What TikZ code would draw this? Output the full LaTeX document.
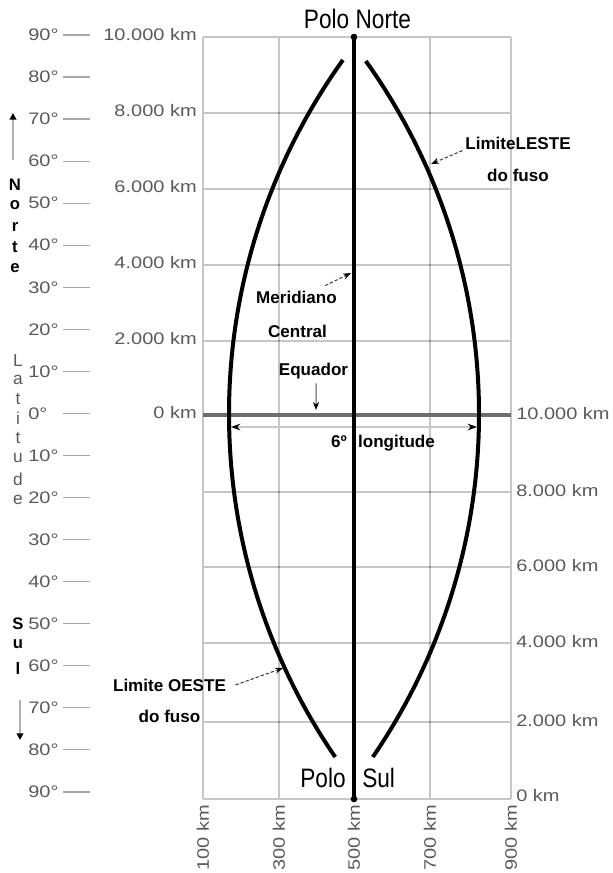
\documentclass[tikz,border=0pt]{standalone}
\usepackage{fontspec}
\setmainfont{Liberation Sans}
\newfontfamily\grayfont[FakeStretch=1.2]{Liberation Sans}
\newfontfamily\polofont[FakeStretch=0.85]{Liberation Sans}
\usetikzlibrary{arrows.meta}
\definecolor{gridgray}{HTML}{C6C6C6}
\definecolor{lblgray}{HTML}{5A5A5A}
\definecolor{eqgray}{HTML}{6E6E6E}
\definecolor{dimgray}{HTML}{C8C8C8}
\begin{document}
\begin{tikzpicture}[x=0.75pt,y=-0.75pt,
  lbl/.style={font=\grayfont\fontsize{12.5}{14}\selectfont, text=lblgray, inner sep=0pt},
  bl/.style={font=\bfseries\fontsize{12.8}{14}\selectfont, inner sep=0pt, anchor=base},
  pole/.style={font=\polofont\fontsize{20}{22}\selectfont, inner sep=0pt},
  vbold/.style={font=\bfseries\fontsize{12.5}{13}\selectfont, inner sep=0pt},
  vgray/.style={font=\fontsize{13}{14}\selectfont, text=lblgray, inner sep=0pt},
  gridline/.style={draw=gridgray, line width=1.1pt},
  tickline/.style={draw=gridgray!85!black, line width=0.9pt},
  fuso/.style={draw=black, line width=3pt},
  meridian/.style={draw=black, line width=2.4pt},
  equator/.style={draw=eqgray, line width=3pt},
  dimline/.style={draw=dimgray, line width=2pt, {Stealth[length=7pt,width=5pt,black]}-{Stealth[length=7pt,width=5pt,black]}},
  ptr/.style={draw=black!75, line width=0.8pt, dash pattern=on 2.5pt off 1.5pt, -{Stealth[length=6pt,width=4.5pt,black]}},
  eqptr/.style={draw=black!70, line width=0.8pt, -{Stealth[length=6pt,width=4.5pt,black]}},
  latarrow/.style={draw=gray!60, line width=1.3pt, -{Triangle[length=5pt,width=5pt,black]}},
  poledot/.style={circle, fill=black, inner sep=0pt, minimum size=5pt},
]
\fill[white] (0,0) rectangle (612,873);
\useasboundingbox (0,0) rectangle (612,873);

% grid
\foreach \y in {37,113,189,265,341,415,492,567,643,722,799}
  \draw[gridline] (203,\y) -- (511,\y);
\foreach \x in {203,279,354,430,511}
  \draw[gridline] (\x,37) -- (\x,799);
\foreach \x in {279,430}
  \foreach \y in {113,189,265,341,492,567,643,722}
    \fill[black!65] (\x,\y) circle (0.7pt);

% equator
\draw[equator] (203,415) -- (511,415);

% 6 degree dimension
\coordinate (dimL) at (231,427);
\coordinate (dimR) at (477,427);
\draw[dimline] (dimL) -- (dimR);

% zone limits
\draw[fuso] plot[domain=60:757, samples=90, smooth] ({229+100*(6.07-sqrt(6.07*6.07-((\x-414)/100)^2))}, \x);
\draw[fuso] plot[domain=61:757, samples=90, smooth] ({479-100*(6.07-sqrt(6.07*6.07-((\x-414)/100)^2))}, \x);

% central meridian
\node[poledot] (np) at (354,37) {};
\node[poledot] (sp) at (354,799) {};
\draw[meridian] (np.center) -- (sp.center);

% pole labels
\node[pole, anchor=base] (polonorte) at (357.5,29) {Polo Norte};
\node[pole, anchor=base east] (polo) at (346,787) {Polo};
\node[pole, anchor=base west] (sul) at (362,787) {Sul};

% latitude scale
\foreach \k in {0,...,18} {
  \pgfmathsetmacro\yy{35+42.05*\k}
  \pgfmathtruncatemacro\d{abs(90-10*\k)}
  \draw[tickline] (63,\yy) -- (90,\yy);
  \node[lbl, anchor=west] (lat\k) at (28,\yy) {\d°};
}

% left km scale
\foreach \v/\y [count=\i] in {10.000/37,8.000/113,6.000/189,4.000/265,2.000/341,0/415}
  \node[lbl, anchor=east] (kl\i) at (197,\y-2) {\v\ km};
% right km scale
\foreach \v/\y [count=\i] in {10.000/415,8.000/492,6.000/567,4.000/643,2.000/722,0/797}
  \node[lbl, anchor=west] (kr\i) at (516,\y-1) {\v\ km};
% bottom km scale
\foreach \v/\x in {100/203,300/279,500/354,700/430,900/511}
  \node[lbl, anchor=east, rotate=90] (kb\v) at (\x,805) {\v\ km};

% vertical side texts
\foreach \c/\y [count=\i] in {N/185,o/205,r/227,t/247,e/268}
  \node[vbold] (no\i) at (15,\y) {\c};
\foreach \c/\y [count=\i] in {L/361,a/380,t/399,i/418,t/438,u/458,d/479,e/500}
  \node[vgray] (la\i) at (18,\y) {\c};
\foreach \c/\y [count=\i] in {S/624,u/644,l/668}
  \node[vbold] (su\i) at (18,\y) {\c};
\coordinate (upS) at (13,160);
\coordinate (upE) at (13,113);
\draw[latarrow] (upS) -- (upE);
\coordinate (dnS) at (20,700);
\coordinate (dnE) at (20,740);
\draw[latarrow] (dnS) -- (dnE);

% annotations
\node[bl] (leste) at (518,150) {LimiteLESTE};
\node[bl] (lestefuso) at (518,182) {do fuso};
\coordinate (lesteEnd) at (431,164);
\draw[ptr] ([shift={(-2pt,-5pt)}]leste.west) -- (lesteEnd);

\node[bl] (oeste) at (169.5,691) {Limite OESTE};
\node[bl] (oestefuso) at (169.5,722) {do fuso};
\coordinate (oesteEnd) at (283,668);
\draw[ptr] ([xshift=7pt]oeste.east) -- (oesteEnd);

\node[bl] (mer) at (296.5,303) {Meridiano};
\node[bl] (cen) at (297.5,337) {Central};
\coordinate (merEnd) at (351,273);
\draw[ptr] ([shift={(-9pt,3.5pt)}]mer.north east) -- (merEnd);

\node[bl] (equ) at (313.5,375) {Equador};
\coordinate (equEnd) at (316,410);
\draw[eqptr] ([shift={(2pt,-3.5pt)}]equ.south) -- (equEnd);

\node[bl] (seis) at (339,447) {6º};
\node[bl] (longi) at (396.5,447) {longitude};
\end{tikzpicture}
\end{document}
